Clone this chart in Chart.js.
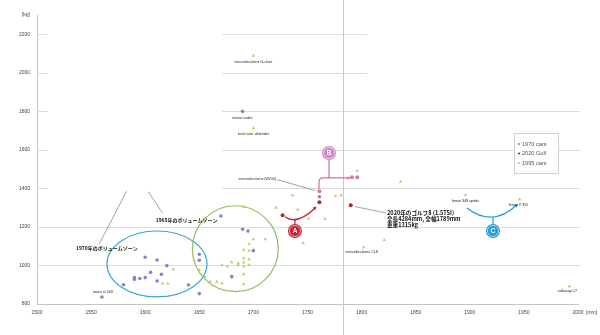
<!DOCTYPE html>
<html>
<head>
<meta charset="utf-8">
<script src="https://cdn.jsdelivr.net/npm/chart.js@4.4.1/dist/chart.umd.min.js"></script>
<style>
  body { margin: 0; background: #fff; }
  #wrap { width: 600px; height: 335px; }
</style>
</head>
<body>
<div id="wrap"><canvas id="chart" width="600" height="335"></canvas></div>
<script>
// 全幅 [mm] と 車重 [kg]
const width1970 = [1560, 1580, 1590, 1590, 1595, 1600, 1600, 1605, 1611, 1611, 1615, 1620, 1640, 1650, 1650, 1650, 1670, 1680, 1690, 1695, 1700, 1761, 1690];
const weight1970 = [836, 900, 937, 928, 932, 1043, 937, 964, 1028, 919, 954, 999, 899, 1058, 1027, 854, 1257, 942, 1188, 1179, 1077, 1357, 1800];

const widthGolf = [1727, 1761, 1790, 1761, 1791, 1796];
const weightGolf = [1260, 1328, 1312, 1385, 1458, 1458];

const width1995 = [1616, 1621, 1626, 1645, 1650, 1655, 1660, 1666, 1671, 1671, 1676, 1680, 1686, 1686, 1691, 1691, 1691, 1691, 1691, 1696, 1696, 1696, 1696, 1700, 1691, 1691, 1711, 1721, 1736, 1741, 1751, 1766, 1746, 1776, 1781, 1796, 1836, 1802, 1821, 1896, 1946, 1992, 1700, 1700];
const weight1995 = [907, 907, 980, 1027, 977, 942, 916, 916, 907, 1003, 994, 1017, 1011, 1003, 1305, 1080, 1037, 1015, 994, 1112, 1077, 1032, 1003, 1136, 954, 902, 1136, 1300, 1365, 1290, 1242, 1242, 1115, 1360, 1364, 1492, 1435, 1094, 1132, 1366, 1344, 892, 2088, 1713];

const seriesNames = ["1970 cars", "2020 Golf", "1995 cars"];
const xTicks = [1500, 1550, 1600, 1650, 1700, 1750, 1800, 1850, 1900, 1950, 2000];
const yTicks = [800, 1000, 1200, 1400, 1600, 1800, 2000, 2200, 2300];

// 車名ラベル（点の位置 + ずらし量 px）
const carNames = [
  { name: "mercedes-benz G-class", x: 1700, y: 2088, dx: 0, dy: 6 },
  { name: "nissan cedric", x: 1690, y: 1800, dx: 0, dy: 6.5 },
  { name: "land rover defender", x: 1700, y: 1713, dx: 0, dy: 5.5 },
  { name: "mercedes-benz CLK", x: 1802, y: 1094, dx: -2, dy: 5 },
  { name: "ferrari 348 spider", x: 1896, y: 1366, dx: 0, dy: 5.7 },
  { name: "ferrari F 355", x: 1946, y: 1344, dx: -1, dy: 5.4 },
  { name: "callaway C7", x: 1992, y: 892, dx: -2, dy: 5 },
  { name: "maku ni 503", x: 1560, y: 836, dx: 1, dy: -5.5 },
];

const golfNote = ["2020年のゴルフ8 (1.5TSI)", "全長4284mm, 全幅1789mm", "車重1315kg"];

// 部分的な横グリッド [y, x開始, x終了]
const gridSegments = [
  [2200, 1500, 1510], [2200, 1671, 1805],
  [2000, 1500, 1510], [2000, 1671, 1805],
  [1800, 1500, 1510], [1800, 1671, 2002],
  [1600, 1500, 1510], [1600, 1671, 2002],
  [1400, 1500, 1510], [1400, 1671, 2002],
  [1200, 1500, 2002],
  [1000, 1500, 2002],
];

const toPoints = (xs, ys) => xs.map((v, i) => ({ x: v, y: ys[i] }));

function arrowHead(ctx, fx, fy, tx, ty, size) {
  const a = Math.atan2(ty - fy, tx - fx);
  ctx.beginPath();
  ctx.moveTo(tx, ty);
  ctx.lineTo(tx - size * Math.cos(a - 0.45), ty - size * Math.sin(a - 0.45));
  ctx.lineTo(tx - size * Math.cos(a + 0.45), ty - size * Math.sin(a + 0.45));
  ctx.closePath();
  ctx.fill();
}

function badge(ctx, cx, cy, color, letter) {
  ctx.fillStyle = color;
  ctx.beginPath();
  ctx.arc(cx, cy, 7, 0, Math.PI * 2);
  ctx.fill();
  ctx.strokeStyle = "rgba(255,255,255,0.6)";
  ctx.lineWidth = 1;
  ctx.beginPath();
  ctx.arc(cx, cy, 5.5, 0, Math.PI * 2);
  ctx.stroke();
  ctx.fillStyle = "#fff";
  ctx.font = "bold 7px 'Liberation Sans'";
  ctx.textAlign = "center";
  ctx.textBaseline = "middle";
  ctx.fillText(letter, cx, cy + 0.5);
}

const drawings = {
  id: "drawings",
  beforeDatasetsDraw(chart) {
    const { ctx, scales: { x, y } } = chart;
    const X = (v) => x.getPixelForValue(v);
    const Y = (v) => y.getPixelForValue(v);
    ctx.save();
    ctx.lineWidth = 1;
    ctx.strokeStyle = "#dcdcdc";
    gridSegments.forEach(([v, a, b]) => {
      const py = Math.round(Y(v)) + 0.5;
      ctx.beginPath();
      ctx.moveTo(X(a), py);
      ctx.lineTo(X(b), py);
      ctx.stroke();
    });
    // 縦線
    ctx.strokeStyle = "#c8c8c8";
    const vx = Math.round(X(1783)) + 0.5;
    ctx.beginPath();
    ctx.moveTo(vx, 0);
    ctx.lineTo(vx, chart.height);
    ctx.stroke();

    // ボリュームゾーンの楕円
    const ellipse = (cx, cy, rx, ry, color) => {
      ctx.strokeStyle = color;
      ctx.lineWidth = 1.2;
      ctx.beginPath();
      ctx.ellipse(X(cx), Y(cy), X(cx + rx) - X(cx), Y(cy) - Y(cy + ry), 0, 0, Math.PI * 2);
      ctx.stroke();
    };
    ellipse(1610.9, 1008, 46.2, 171, "#3aa6d6");
    ellipse(1683.3, 1087, 39.7, 223, "#8dbf5a");

    // 引き出し線
    ctx.strokeStyle = "#8a8a8a";
    ctx.lineWidth = 0.8;
    const line = (x1, y1, x2, y2) => {
      ctx.beginPath();
      ctx.moveTo(X(x1), Y(y1));
      ctx.lineTo(X(x2), Y(y2));
      ctx.stroke();
    };
    line(1582.9, 1387, 1557.6, 1112);
    line(1602.9, 1383, 1615.8, 1274);
    line(1793.9, 1305.5, 1822.6, 1272.7);
    line(1722, 1445, 1757, 1389);
    ctx.restore();
  },
  afterDatasetsDraw(chart) {
    const { ctx, scales: { x, y } } = chart;
    const X = (v) => x.getPixelForValue(v);
    const Y = (v) => y.getPixelForValue(v);
    ctx.save();

    // A: 赤の矢印
    ctx.strokeStyle = "#c8202e";
    ctx.fillStyle = "#c8202e";
    ctx.lineWidth = 1.3;
    ctx.beginPath();
    ctx.moveTo(X(1729.2), Y(1253.5));
    ctx.quadraticCurveTo(X(1739.4), Y(1205), X(1757.5), Y(1300));
    ctx.stroke();
    arrowHead(ctx, X(1750), Y(1265), X(1758.5), Y(1305.5), 4);
    ctx.beginPath();
    ctx.moveTo(X(1738.4), Y(1238));
    ctx.lineTo(X(1738.4), Y(1215));
    ctx.stroke();
    badge(ctx, X(1738.4), Y(1179), "#c8202e", "A");

    // B: ピンクの矢印
    ctx.strokeStyle = "#d4709e";
    ctx.fillStyle = "#d4709e";
    ctx.lineWidth = 1.2;
    ctx.beginPath();
    ctx.moveTo(X(1760.6), Y(1397));
    ctx.lineTo(X(1760.6), Y(1434));
    ctx.quadraticCurveTo(X(1760.6), Y(1454.5), X(1764.3), Y(1454.5));
    ctx.lineTo(X(1787.5), Y(1454.5));
    ctx.stroke();
    arrowHead(ctx, X(1780), Y(1454.5), X(1790), Y(1454.5), 4);
    ctx.beginPath();
    ctx.moveTo(X(1769.9), Y(1548));
    ctx.lineTo(X(1769.9), Y(1454.5));
    ctx.stroke();
    badge(ctx, X(1769.9), Y(1584), "#d283c2", "B");

    // C: 青の矢印
    ctx.strokeStyle = "#2a9fd8";
    ctx.fillStyle = "#2a9fd8";
    ctx.lineWidth = 1.3;
    ctx.beginPath();
    ctx.moveTo(X(1897.4), Y(1298.7));
    ctx.quadraticCurveTo(X(1921.4), Y(1194.8), X(1943.5), Y(1315));
    ctx.stroke();
    arrowHead(ctx, X(1935), Y(1270), X(1944.5), Y(1319.5), 4);
    ctx.beginPath();
    ctx.moveTo(X(1921.4), Y(1250));
    ctx.lineTo(X(1921.4), Y(1215));
    ctx.stroke();
    badge(ctx, X(1921.4), Y(1179), "#1f9ad6", "C");

    // 車名
    ctx.fillStyle = "#222";
    ctx.font = "3.6px 'Liberation Sans'";
    ctx.textAlign = "center";
    ctx.textBaseline = "middle";
    carNames.forEach((c) => ctx.fillText(c.name, X(c.x) + c.dx, Y(c.y) + c.dy));
    ctx.textAlign = "right";
    ctx.fillText("mercedes-benz (W210)", X(1721), Y(1447));

    // ボリュームゾーンの説明
    ctx.font = "bold 5px 'Noto Sans CJK JP'";
    ctx.textAlign = "left";
    ctx.fillStyle = "#111";
    ctx.fillText("1965年のボリュームゾーン", X(1609.7), Y(1236));
    ctx.fillText("1970年のボリュームゾーン", X(1536), Y(1091));

    // ゴルフの説明
    ctx.font = "bold 5.6px 'Noto Sans CJK JP'";
    golfNote.forEach((t, i) => ctx.fillText(t, X(1823.5), Y(1271) + i * 5.6));

    // [mm]
    ctx.font = "5px 'Liberation Sans'";
    ctx.fillStyle = "#444";
    ctx.fillText("[mm]", X(2000) + 8, chart.chartArea.bottom + 9);

    // 凡例
    const lx = 514, ly = 133;
    ctx.fillStyle = "#fff";
    ctx.fillRect(lx, ly, 44, 40);
    ctx.strokeStyle = "#c8c8c8";
    ctx.lineWidth = 0.8;
    ctx.strokeRect(lx + 0.5, ly + 0.5, 44, 40);
    ctx.font = "5.6px 'Liberation Sans'";
    chart.data.datasets.forEach((ds, i) => {
      const ty = ly + 11 + i * 9.5;
      ctx.fillStyle = ds.legendColor;
      ctx.beginPath();
      ctx.arc(lx + 5, ty, 1.1, 0, Math.PI * 2);
      ctx.fill();
      ctx.fillStyle = "#555";
      ctx.textAlign = "left";
      ctx.fillText(ds.label, lx + 8, ty + 0.3);
    });
    ctx.restore();
  },
};

const ctx = document.getElementById("chart").getContext("2d");

new Chart(ctx, {
  type: "scatter",
  data: {
    datasets: [
      {
        label: seriesNames[0],
        data: toPoints(width1970, weight1970),
        backgroundColor: "#8087c9",
        borderColor: "#8087c9",
        legendColor: "#8087c9",
        pointRadius: 1.8,
        borderWidth: 0,
      },
      {
        label: seriesNames[1],
        data: toPoints(widthGolf, weightGolf),
        backgroundColor: (c) => (c.dataIndex >= 3 ? "#d27a9e" : "#c0202e"),
        borderColor: "transparent",
        legendColor: "#c0202e",
        pointRadius: 2,
        borderWidth: 0,
      },
      {
        label: seriesNames[2],
        data: toPoints(width1995, weight1995),
        backgroundColor: "#c9c66a",
        borderColor: "#c9c66a",
        legendColor: "#c9c66a",
        pointStyle: "triangle",
        pointRadius: 2,
        borderWidth: 0,
      },
    ],
  },
  options: {
    responsive: false,
    animation: false,
    devicePixelRatio: 1,
    layout: { padding: { top: 15, right: 22, left: 0, bottom: 0 } },
    plugins: {
      legend: { display: false },
      tooltip: { enabled: false },
    },
    scales: {
      x: {
        type: "linear",
        min: 1500,
        max: 2000,
        afterBuildTicks: (axis) => { axis.ticks = xTicks.map((v) => ({ value: v })); },
        afterFit: (axis) => { axis.height = 31; },
        grid: { display: false, drawTicks: false },
        border: { display: true, color: "#c4c4c4", width: 1 },
        ticks: {
          padding: 6,
          color: "#444",
          font: { size: 5, family: "'Liberation Sans'" },
          callback: (v) => String(v),
        },
      },
      y: {
        type: "linear",
        min: 800,
        max: 2300,
        afterBuildTicks: (axis) => { axis.ticks = yTicks.map((v) => ({ value: v })); },
        afterFit: (axis) => { axis.width = 37; },
        grid: { display: false, drawTicks: false },
        border: { display: true, color: "#c4c4c4", width: 1 },
        ticks: {
          padding: 7,
          color: "#444",
          font: { size: 5, family: "'Liberation Sans'" },
          callback: (v) => (v === 2300 ? "[kg]" : String(v)),
        },
      },
    },
  },
  plugins: [drawings],
});
</script>
</body>
</html>
